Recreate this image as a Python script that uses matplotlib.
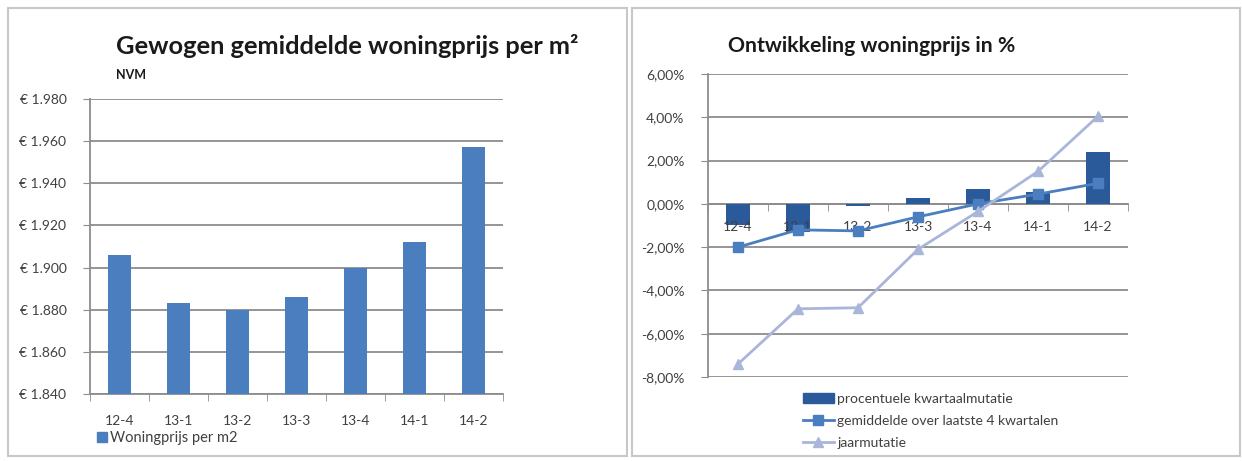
import matplotlib.pyplot as plt
from matplotlib.patches import Rectangle
from matplotlib.lines import Line2D
from matplotlib.ticker import FuncFormatter

plt.rcParams['font.family'] = ['Lato', 'DejaVu Sans']

quarters = ["12-4", "13-1", "13-2", "13-3", "13-4", "14-1", "14-2"]
price_m2 = [1906, 1883, 1880, 1886, 1900, 1912, 1957]

kwartaal = [-1.0, -1.3, -0.1, 0.25, 0.7, 0.55, 2.4]
gemiddelde = [-2.0, -1.2, -1.25, -0.6, 0.0, 0.45, 0.95]
jaarmutatie = [-7.4, -4.85, -4.8, -2.1, -0.35, 1.5, 4.05]

GRID = "#8c8c8c"
TXT = "#404040"
BLUE = "#4a7ebf"
DARK = "#2b5a9a"
LIGHT = "#a9b6da"

fig = plt.figure(figsize=(12.42, 4.61), dpi=100)

# panel frames
for x0, x1 in [(8, 627), (632, 1240)]:
    fig.add_artist(Rectangle((x0 / 1242, 5 / 461), (x1 - x0) / 1242, 448 / 461,
                             transform=fig.transFigure, fill=False,
                             edgecolor="#c8c8c8", linewidth=1.5))

xs = range(len(quarters))

# ---- left chart
ax = fig.add_axes([90 / 1242, 67 / 461, 413 / 1242, 295 / 461])
ax.bar(xs, price_m2, width=0.38, color=BLUE, zorder=3)
ax.set_ylim(1840, 1980)
ax.set_xlim(-0.5, 6.5)
ax.set_yticks(range(1840, 1981, 20))
ax.yaxis.set_major_formatter(FuncFormatter(lambda v, p: "€ " + f"{v:,.0f}".replace(",", ".")))
ax.grid(True, 'major', 'y', color=GRID, linewidth=1.3, zorder=0)
ax.set_xticks(list(xs))
ax.set_xticklabels(quarters)
ax.set_xticks([i + 0.5 for i in range(-1, 7)], minor=True)
ax.tick_params(axis='x', which='major', length=0, pad=15, labelsize=10, labelcolor=TXT)
ax.tick_params(axis='x', which='minor', length=5, color=GRID, direction='out')
ax.tick_params(axis='y', length=5, color=GRID, labelsize=10, labelcolor=TXT, pad=12)
for s in ["top", "right"]:
    ax.spines[s].set_visible(False)
for s in ["left", "bottom"]:
    ax.spines[s].set_color(GRID)
    ax.spines[s].set_linewidth(1.3)

fig.text(116 / 1242, 1 - 46 / 461, "Gewogen gemiddelde woningprijs per m²",
         fontsize=18.3, fontweight='bold', color="#1a1a1a", va='center')
fig.text(116 / 1242, 1 - 75 / 461, "NVM", fontsize=9, fontweight='bold',
         color="#1a1a1a", va='center')
fig.legend(handles=[Rectangle((0, 0), 1, 1, color=BLUE)], labels=["Woningprijs per m2"],
           loc='center left', bbox_to_anchor=(84 / 1242, 1 - 438 / 461),
           frameon=False, fontsize=10.5, handlelength=0.7, handleheight=0.7,
           handletextpad=0.2, labelcolor=TXT)

# ---- right chart
ax2 = fig.add_axes([708 / 1242, 84 / 461, 420 / 1242, 303 / 461])
ax2.bar(xs, kwartaal, width=0.39, color=DARK, zorder=3)
ax2.plot(xs, gemiddelde, color=BLUE, linewidth=2, marker='s', markersize=7, zorder=4)
ax2.plot(xs, jaarmutatie, color=LIGHT, linewidth=2, marker='^', markersize=7, zorder=4)
ax2.set_ylim(-8, 6)
ax2.set_xlim(-0.5, 6.5)
ax2.set_yticks(range(-8, 7, 2))
ax2.yaxis.set_major_formatter(FuncFormatter(lambda v, p: f"{v:.2f}%".replace(".", ",")))
ax2.grid(True, 'major', 'y', color=GRID, linewidth=1.3, zorder=0)
ax2.set_xticks(list(xs))
ax2.set_xticklabels(quarters)
ax2.set_xticks([i + 0.5 for i in range(-1, 7)], minor=True)
ax2.tick_params(axis='x', which='major', length=0, pad=12, labelsize=10, labelcolor=TXT)
ax2.tick_params(axis='x', which='minor', length=5, color=GRID, direction='out')
ax2.tick_params(axis='y', length=5, color=GRID, labelsize=10, labelcolor=TXT, pad=12)
ax2.spines['bottom'].set_position(('data', 0))
ax2.xaxis.set_zorder(3.5)
for s in ["top", "right"]:
    ax2.spines[s].set_visible(False)
for s in ["left", "bottom"]:
    ax2.spines[s].set_color(GRID)
    ax2.spines[s].set_linewidth(1.3)

fig.text(728 / 1242, 1 - 46 / 461, "Ontwikkeling woningprijs in %",
         fontsize=15.3, fontweight='bold', color="#1a1a1a", va='center')

handles = [Rectangle((0, 0), 1, 1, color=DARK),
           Line2D([], [], color=BLUE, linewidth=2, marker='s', markersize=7),
           Line2D([], [], color=LIGHT, linewidth=2, marker='^', markersize=7)]
labels = ["procentuele kwartaalmutatie", "gemiddelde over laatste 4 kwartalen", "jaarmutatie"]
fig.legend(handles=handles, labels=labels, loc='upper left',
           bbox_to_anchor=(790 / 1242, 1 - 380 / 461), frameon=False, fontsize=10,
           handlelength=2.3, handletextpad=0.2, labelspacing=0.75, labelcolor=TXT)

fig.savefig("out.png", dpi=100)
